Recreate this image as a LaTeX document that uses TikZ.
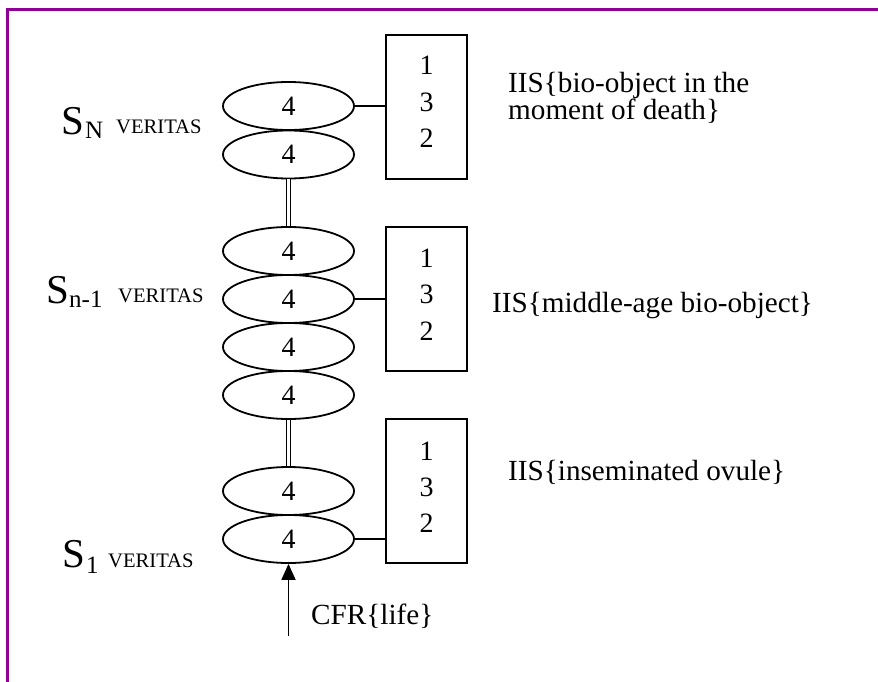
\documentclass[tikz,border=0pt]{standalone}
\usepackage{fontspec}
\setmainfont{Liberation Serif}
\usetikzlibrary{arrows.meta,shapes.geometric}
\definecolor{framepurple}{RGB}{145,0,150}

\begin{document}
\begin{tikzpicture}[x=1pt,y=-1pt,
  lw/.style={line width=1.8pt},
  cell/.style={draw,lw,ellipse,minimum width=131pt,minimum height=48pt,inner sep=0pt,
    font=\fontsize{28}{28}\selectfont},
  panel/.style={draw,lw,rectangle,minimum width=81pt,minimum height=144pt,inner sep=0pt},
  digit/.style={anchor=base,inner sep=0pt,font=\fontsize{28}{28}\selectfont},
  txt/.style={anchor=base west,inner sep=0pt,font=\fontsize{29.2}{27}\selectfont},
  bigS/.style={anchor=base west,inner sep=0pt,font=\fontsize{41}{41}\selectfont},
  subS/.style={anchor=base west,inner sep=0pt,font=\fontsize{25}{25}\selectfont},
  ver/.style={anchor=base west,inner sep=0pt,font=\fontsize{20.6}{20}\selectfont},
  link/.style={lw},
  rail/.style={double,line width=1.5pt,double distance=2.6pt},
]
\useasboundingbox (0,0) rectangle (878,682);

% frame
\draw[framepurple,line width=3pt] (7,682) -- (7,10) -- (878,10);

% chain of states
\node[cell] (e1) at (288.5,106) {4};
\node[cell] (e2) at (288.5,154.5) {4};
\node[cell] (e3) at (288.5,251) {4};
\node[cell] (e4) at (288.5,299) {4};
\node[cell] (e5) at (288.5,347) {4};
\node[cell] (e6) at (288.5,395) {4};
\node[cell] (e7) at (288.5,491) {4};
\node[cell] (e8) at (288.5,539) {4};

\draw[rail] (e2.south) -- (e3.north);
\draw[rail] (e6.south) -- (e7.north);

% boxes
\node[panel] (b1) at (426.5,107) {};
\node[panel] (b2) at (426.5,299) {};
\node[panel] (b3) at (426.5,491) {};

\node[digit] (b1a) at (426.5,75) {1};
\node[digit] (b1b) at (426.5,112) {3};
\node[digit] (b1c) at (426.5,148) {2};
\node[digit] (b2a) at (426.5,267) {1};
\node[digit] (b2b) at (426.5,303) {3};
\node[digit] (b2c) at (426.5,340) {2};
\node[digit] (b3a) at (426.5,460) {1};
\node[digit] (b3b) at (426.5,496) {3};
\node[digit] (b3c) at (426.5,532) {2};

\draw[link] (e1.east) -- (b1.west |- e1.east);
\draw[link] (e4.east) -- (b2.west |- e4.east);
\draw[link] (e8.east) -- (b3.west |- e8.east);

% input arrow
\coordinate (in) at (288.5,636);
\draw[lw,-{Triangle[length=16pt,width=14pt]}] (in) -- (e8.south);
\node[txt] (cfr) at (311,624) {CFR\{life\}};

% state labels
\node[bigS] (sN) at (61,135) {S};
\node[subS] (sNs) at (85,139) {N};
\node[ver] (vN) at (116,134) {VERITAS};

\node[bigS] (sn1) at (46,303) {S};
\node[subS] (sn1s) at (69,307) {n-1};
\node[ver] (vn1) at (118,302) {VERITAS};

\node[bigS] (s1) at (62,567) {S};
\node[subS] (s1s) at (86,573) {1};
\node[ver] (v1) at (108,567) {VERITAS};

% right-hand descriptions
\node[txt] (t1a) at (508,93) {IIS\{bio-object in the};
\node[txt] (t1b) at (508,120) {moment of death\}};
\node[txt] (t2) at (492,312) {IIS\{middle-age bio-object\}};
\node[txt] (t3) at (508,480) {IIS\{inseminated ovule\}};
\end{tikzpicture}
\end{document}
